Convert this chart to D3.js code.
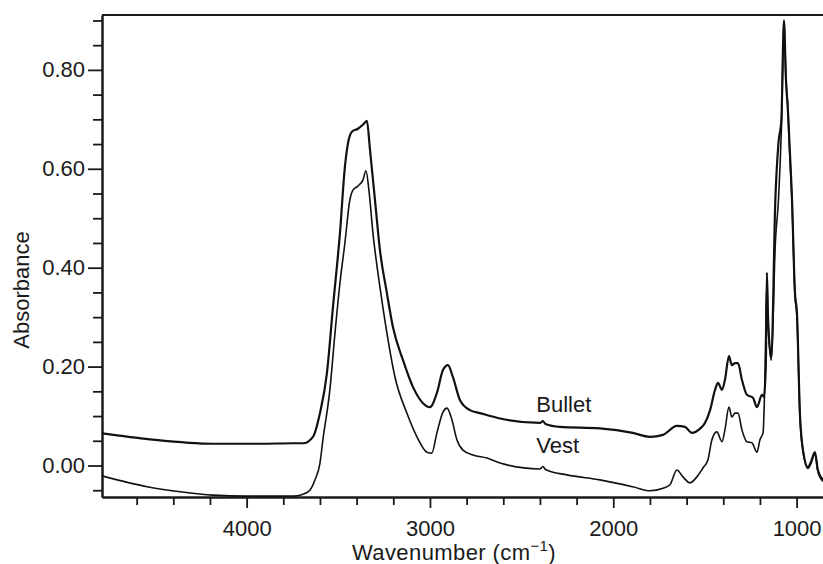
<!DOCTYPE html>
<html>
<head>
<meta charset="utf-8">
<script src="https://cdn.jsdelivr.net/npm/d3@7"></script>
<style>
  body { margin: 0; background: #fff; }
  svg { display: block; }
  text { font-family: "Liberation Sans", Arial, Helvetica, sans-serif; fill: #1a1a1a; }
  .axis path, .axis line { stroke: #1a1a1a; }
</style>
</head>
<body>
<div id="chart"></div>
<script>
// spectra (wavenumber cm-1, absorbance)
const bulletWn  = [4789, 4527, 4184, 3927, 3747, 3692, 3638, 3600, 3562, 3529, 3491, 3464, 3447, 3426, 3393, 3366, 3344,
                   3327, 3300, 3273, 3235, 3202, 3147, 3093, 3038, 3000, 2962, 2929, 2902, 2875, 2836, 2782, 2727, 2618,
                   2400, 2384, 2370, 2291, 2073, 1893, 1800, 1729, 1653, 1609, 1571, 1528, 1500, 1472, 1445, 1429, 1407,
                   1391, 1369, 1353, 1336, 1320, 1298, 1271, 1238, 1216, 1189, 1178, 1168, 1162, 1156, 1138, 1116, 1099,
                   1083, 1069, 1058, 1047, 1041, 1025, 1009, 998, 982, 965, 938, 922, 900, 884, 856];
const bulletAbs = [0.065, 0.053, 0.044, 0.044, 0.045, 0.045, 0.058, 0.106, 0.187, 0.321, 0.470, 0.604, 0.652, 0.675, 0.681, 0.689, 0.697,
                   0.638, 0.537, 0.436, 0.349, 0.280, 0.213, 0.159, 0.126, 0.118, 0.147, 0.193, 0.203, 0.179, 0.132, 0.112, 0.106, 0.095,
                   0.086, 0.090, 0.084, 0.078, 0.075, 0.066, 0.058, 0.062, 0.080, 0.078, 0.066, 0.074, 0.086, 0.112, 0.153, 0.167, 0.153,
                   0.173, 0.221, 0.203, 0.207, 0.207, 0.173, 0.143, 0.137, 0.118, 0.143, 0.139, 0.200, 0.390, 0.300, 0.217, 0.537, 0.652,
                   0.700, 0.900, 0.780, 0.715, 0.668, 0.537, 0.349, 0.308, 0.106, 0.031, -0.003, 0.007, 0.027, -0.009, -0.029];

const vestWn  = [4789, 4543, 4364, 4184, 3998, 3747, 3692, 3655, 3627, 3600, 3584, 3546, 3518, 3491, 3464, 3437, 3420, 3393,
                 3366, 3349, 3333, 3311, 3273, 3235, 3191, 3126, 3071, 3017, 2990, 2962, 2929, 2907, 2880, 2853, 2820, 2765,
                 2689, 2618, 2400, 2384, 2370, 2253, 2073, 1893, 1800, 1729, 1691, 1653, 1620, 1582, 1544, 1511, 1484, 1462,
                 1435, 1407, 1391, 1369, 1353, 1336, 1320, 1298, 1271, 1244, 1216, 1200, 1183, 1173, 1162, 1156, 1138, 1116,
                 1099, 1083, 1069, 1058, 1047, 1041, 1025, 1009, 998, 982, 965, 938, 922, 900, 884, 856];
const vestAbs = [-0.021, -0.043, -0.053, -0.060, -0.062, -0.062, -0.058, -0.050, -0.029, 0.005, 0.052, 0.153, 0.268, 0.369, 0.450, 0.537, 0.557, 0.565,
                 0.577, 0.596, 0.557, 0.470, 0.361, 0.268, 0.179, 0.106, 0.058, 0.027, 0.025, 0.066, 0.108, 0.116, 0.092, 0.052, 0.031, 0.021,
                 0.015, 0.005, -0.007, -0.002, -0.008, -0.019, -0.029, -0.043, -0.051, -0.046, -0.039, -0.009, -0.023, -0.035, -0.023, -0.005, 0.011, 0.052,
                 0.068, 0.048, 0.072, 0.118, 0.098, 0.106, 0.106, 0.072, 0.048, 0.046, 0.027, 0.052, 0.066, 0.173, 0.375, 0.290, 0.213, 0.450,
                 0.537, 0.680, 0.895, 0.780, 0.720, 0.660, 0.530, 0.345, 0.300, 0.100, 0.028, -0.006, 0.004, 0.024, -0.012, -0.032];

const xMajor = [4000, 3000, 2000, 1000];
const yMajor = [0.00, 0.20, 0.40, 0.60, 0.80];
const seriesNames = ["Bullet", "Vest"];

const W = 823, H = 564;
const margin = {top: 15, right: 0, bottom: 67, left: 102};
const width = W - margin.left - margin.right;
const height = H - margin.top - margin.bottom;

const svg = d3.select("#chart").append("svg").attr("width", W).attr("height", H);
const g = svg.append("g").attr("transform", "translate(" + margin.left + "," + margin.top + ")");

const xScale = d3.scaleLinear().domain([4789, 856]).range([0, width]);
const yScale = d3.scaleLinear().domain([-0.0637, 0.911]).range([height, 0]);

// minor ticks
const xMinor = d3.range(1000, 4700, 200).filter(function(d) { return xMajor.indexOf(d) < 0; });
const yMinor = d3.range(-0.05, 0.91, 0.05).map(function(d) { return Math.round(d * 100) / 100; })
    .filter(function(d) { return yMajor.indexOf(d) < 0; });

g.append("g").attr("class", "axis").attr("transform", "translate(0," + height + ")")
    .call(d3.axisBottom(xScale).tickValues(xMinor).tickSize(8).tickSizeOuter(0).tickFormat(""));
const xAx = g.append("g").attr("class", "axis").attr("transform", "translate(0," + height + ")")
    .call(d3.axisBottom(xScale).tickValues(xMajor).tickSize(11).tickSizeOuter(0).tickFormat(d3.format("d")));
xAx.selectAll("text").attr("y", 23).style("font-size", "22px");

g.append("g").attr("class", "axis")
    .call(d3.axisLeft(yScale).tickValues(yMinor).tickSize(9).tickSizeOuter(0).tickFormat(""));
const yAx = g.append("g").attr("class", "axis")
    .call(d3.axisLeft(yScale).tickValues(yMajor).tickSize(14).tickSizeOuter(0).tickFormat(d3.format(".2f")));
yAx.selectAll("text").attr("x", -17).style("font-size", "22px");

g.selectAll(".axis path").style("stroke-width", 2);
g.selectAll(".axis line").style("stroke-width", 1.8);

// top frame line
g.append("line").attr("x1", 0).attr("x2", width).attr("y1", 0).attr("y2", 0)
    .style("stroke", "#1a1a1a").style("stroke-width", 2);

g.append("clipPath").attr("id", "clip").append("rect")
    .attr("x", 0).attr("y", 0).attr("width", width).attr("height", height);

const line = d3.line()
    .x(function(d) { return xScale(d[0]); })
    .y(function(d) { return yScale(d[1]); })
    .curve(d3.curveMonotoneX);

const series = [
    {name: seriesNames[0], values: d3.zip(bulletWn, bulletAbs), w: 2.2, lx: 2420, ly: 0.108},
    {name: seriesNames[1], values: d3.zip(vestWn, vestAbs), w: 1.6, lx: 2420, ly: 0.025}
];

g.selectAll(".spec").data(series).enter().append("path")
    .attr("class", "spec")
    .attr("clip-path", "url(#clip)")
    .attr("d", function(d) { return line(d.values); })
    .style("fill", "none")
    .style("stroke", "#111")
    .style("stroke-width", function(d) { return d.w; })
    .style("stroke-linejoin", "round");

g.selectAll(".lbl").data(series).enter().append("text")
    .attr("class", "lbl")
    .attr("x", function(d) { return xScale(d.lx); })
    .attr("y", function(d) { return yScale(d.ly); })
    .style("font-size", "22px")
    .text(function(d) { return d.name; });

// axis titles
const xt = svg.append("text").attr("x", 454).attr("y", 560)
    .style("font-size", "22px").style("letter-spacing", "0.4px").style("text-anchor", "middle");
xt.append("tspan").text("Wavenumber (cm");
xt.append("tspan").attr("dy", -9).style("font-size", "15px").text("\u22121");
xt.append("tspan").attr("dy", 9).text(")");

svg.append("text")
    .attr("transform", "translate(29,290) rotate(-90)")
    .style("text-anchor", "middle")
    .style("font-size", "22px")
    .text("Absorbance");
</script>
</body>
</html>
